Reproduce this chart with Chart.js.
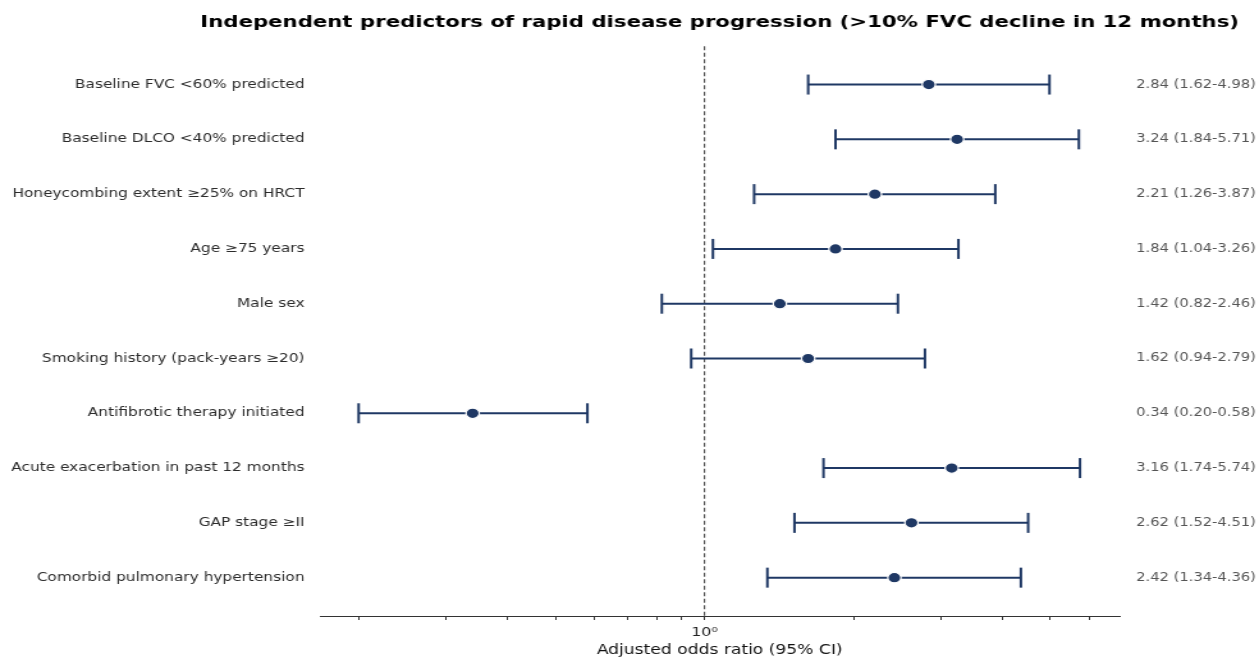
<!DOCTYPE html>
<html lang="en">
<head>
  <meta charset="UTF-8">
  <title>Independent predictors of rapid disease progression</title>
  <script src="https://cdn.jsdelivr.net/npm/chart.js"></script>
  <style>
    html, body { margin: 0; padding: 0; background: #fff; }
  </style>
</head>
<body>
  <!-- drawn 984px wide, then stretched to the window like the reference image -->
  <canvas id="forest" width="984" height="657" style="width:1259px;height:657px;display:block"></canvas>

  <script>
    const predictors = [
      'Baseline FVC <60% predicted',
      'Baseline DLCO <40% predicted',
      'Honeycombing extent ≥25% on HRCT',
      'Age ≥75 years',
      'Male sex',
      'Smoking history (pack-years ≥20)',
      'Antifibrotic therapy initiated',
      'Acute exacerbation in past 12 months',
      'GAP stage ≥II',
      'Comorbid pulmonary hypertension'
    ];
    const oddsRatio = [2.84, 3.24, 2.21, 1.84, 1.42, 1.62, 0.34, 3.16, 2.62, 2.42];
    const ciLow     = [1.62, 1.84, 1.26, 1.04, 0.82, 0.94, 0.20, 1.74, 1.52, 1.34];
    const ciHigh    = [4.98, 5.71, 3.87, 3.26, 2.46, 2.79, 0.58, 5.74, 4.51, 4.36];
    const xTicks = [0.2, 0.3, 0.4, 0.5, 0.6, 0.7, 0.8, 0.9, 1, 2, 3, 4, 5, 6];
    const refValue = 1;
    const xMin = 0.167, xMax = 6.9;
    const yMin = -0.7, yMax = 9.7;
    const chartTitle = 'Independent predictors of rapid disease progression (>10% FVC decline in 12 months)';

    const navy = '#1f3864';
    const FONT = "'DejaVu Sans', sans-serif";
    Chart.defaults.font.family = FONT;

    const fmt = v => v.toFixed(2);
    const orText = predictors.map((_, i) => `${fmt(oddsRatio[i])} (${fmt(ciLow[i])}-${fmt(ciHigh[i])})`);
    const rowTicks = scale => { scale.ticks = predictors.map((_, i) => ({ value: i })); };

    // title centred over the plot area (the built-in title would squeeze it)
    const axesTitle = {
      id: 'axesTitle',
      afterDraw(chart) {
        const { ctx, chartArea } = chart;
        ctx.save();
        ctx.font = `bold 16.6px ${FONT}`;
        ctx.fillStyle = '#000';
        ctx.textAlign = 'center';
        ctx.textBaseline = 'middle';
        ctx.fillText(chartTitle, (chartArea.left + chartArea.right) / 2, 23);
        ctx.restore();
      }
    };

    const ciSets = predictors.map((name, i) => ({
      label: name,
      data: [{ x: ciLow[i], y: i }, { x: ciHigh[i], y: i }],
      showLine: true,
      borderColor: navy,
      borderWidth: 2,
      pointStyle: 'line',
      pointRotation: 90,
      pointRadius: 10,
      pointHoverRadius: 10,
      pointBorderWidth: 2,
      pointBorderColor: navy,
      order: 5
    }));

    new Chart(document.getElementById('forest'), {
      type: 'scatter',
      data: {
        datasets: [
          {
            label: 'reference',
            data: [{ x: refValue, y: yMin }, { x: refValue, y: yMax }],
            showLine: true,
            borderColor: '#4a4a4a',
            borderWidth: 1.1,
            borderDash: [4, 2.5],
            pointRadius: 0,
            order: 10
          },
          ...ciSets,
          {
            label: 'Adjusted OR',
            data: oddsRatio.map((v, i) => ({ x: v, y: i })),
            pointRadius: 5.2,
            pointHoverRadius: 5.2,
            pointBackgroundColor: navy,
            pointBorderColor: '#fff',
            pointBorderWidth: 1.2,
            order: 0
          }
        ]
      },
      plugins: [axesTitle],
      options: {
        responsive: false,
        devicePixelRatio: 1,
        animation: false,
        clip: false,
        layout: { padding: { top: 46.2, right: 0, bottom: 0, left: 0 } },
        plugins: {
          legend: { display: false },
          tooltip: { enabled: false },
          title: { display: false }
        },
        scales: {
          x: {
            type: 'logarithmic',
            min: xMin,
            max: xMax,
            afterBuildTicks: scale => { scale.ticks = xTicks.map(v => ({ value: v })); },
            afterFit: scale => { scale.height = 41; },
            ticks: {
              autoSkip: false,
              maxRotation: 0,
              padding: 5,
              color: '#222',
              font: { size: 12.5 },
              callback: v => (v === 1 ? '10⁰' : '')
            },
            grid: { drawOnChartArea: false, drawTicks: true, tickLength: 4, tickColor: '#333', tickWidth: 1 },
            border: { display: true, color: '#333', width: 1 },
            title: {
              display: true,
              text: 'Adjusted odds ratio (95% CI)',
              color: '#111',
              font: { size: 13.4, lineHeight: 1 },
              padding: { top: 0, bottom: -0.5 }
            }
          },
          y: {
            type: 'linear',
            position: 'left',
            reverse: true,
            min: yMin,
            max: yMax,
            afterBuildTicks: rowTicks,
            afterFit: scale => { scale.width = 250; },
            ticks: {
              padding: 12,
              color: '#2b2b2b',
              font: { size: 12 },
              callback: v => predictors[v] ?? ''
            },
            grid: { display: false, drawTicks: false },
            border: { display: false }
          },
          y2: {
            type: 'linear',
            position: 'right',
            reverse: true,
            min: yMin,
            max: yMax,
            afterBuildTicks: rowTicks,
            afterFit: scale => { scale.width = 109; },
            ticks: {
              padding: 13,
              color: '#555',
              font: { size: 11.5 },
              callback: v => orText[v] ?? ''
            },
            grid: { display: false, drawTicks: false },
            border: { display: false }
          }
        }
      }
    });
  </script>
</body>
</html>
